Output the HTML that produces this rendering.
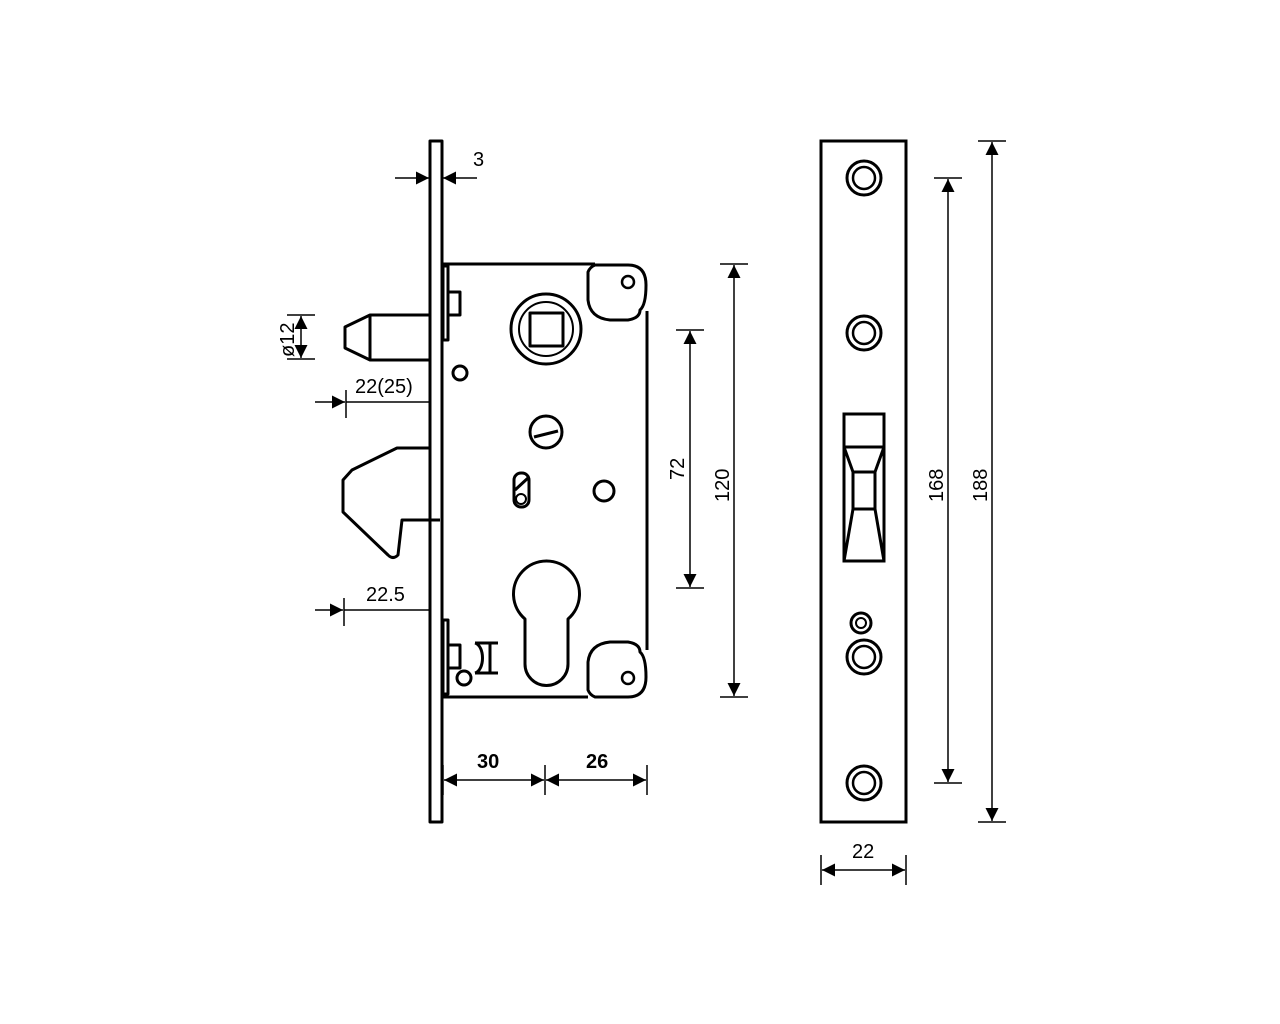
<!DOCTYPE html>
<html><head><style>body{margin:0;background:#fff}svg{display:block}</style></head><body>
<svg width="1280" height="1024" viewBox="0 0 1280 1024" xmlns="http://www.w3.org/2000/svg" font-family="Liberation Sans, sans-serif">
<defs>
<marker id="a" viewBox="0 0 10 10" refX="10" refY="5" markerWidth="22" markerHeight="13" markerUnits="userSpaceOnUse" orient="auto-start-reverse"><path d="M0,0L10,5L0,10z" fill="#000"/></marker>
</defs>
<g fill="none" stroke="#000" stroke-width="3" stroke-linejoin="round">
<rect x="430" y="141" width="12" height="681"/>
<path d="M443,264H595 M588,697H443 M647,311V650"/>
<rect x="443" y="266" width="5" height="74"/>
<rect x="448" y="292" width="12" height="23"/>
<rect x="443" y="620" width="5" height="74"/>
<rect x="448" y="645" width="12" height="23"/>
<path d="M475,643h23 M475,673h23 M490,643v30 M475,643c10,3 10,27 0,30"/>
<circle cx="464" cy="678" r="7"/>
<path d="M595,265H628Q646,265 646,285Q646,305 640,310Q640,318 628,320H610Q590,318 588,300V272Q590,267 595,265Z"/>
<circle cx="628" cy="282" r="6" stroke-width="2.5"/>
<path d="M595,697H628Q646,697 646,677Q646,657 640,652Q640,644 628,642H610Q590,644 588,662V690Q590,695 595,697Z"/>
<circle cx="628" cy="678" r="6" stroke-width="2.5"/>
<circle cx="546" cy="329" r="35"/>
<circle cx="546" cy="329" r="27" stroke-width="2"/>
<rect x="530" y="313" width="33" height="33"/>
<circle cx="460" cy="373" r="7"/>
<circle cx="546" cy="432" r="16"/>
<path d="M534,437L558,431"/>
<rect x="514" y="473" width="15" height="34" rx="7"/>
<path d="M515,490L528,478"/>
<circle cx="521" cy="499" r="5" stroke-width="2"/>
<circle cx="604" cy="491" r="10"/>
<path d="M525,619A33,33 0 1,1 568,619V664A21,21 0 0,1 525,664Z"/>
<path d="M430,315H370L345,327V348L370,360H430 M370,315V360"/>
<path d="M430,448H397L352,470L343,480V512L388,555Q393,560 398,555L402,520H440"/>
</g>
<g stroke="#000" stroke-width="1.5" fill="none">
<path d="M395,178H429" marker-end="url(#a)"/>
<path d="M477,178H443" marker-end="url(#a)"/>
<path d="M287,315H315 M287,359H315"/>
<path d="M301,337V316" marker-end="url(#a)"/>
<path d="M301,337V358" marker-end="url(#a)"/>
<path d="M315,402H345" marker-end="url(#a)"/><path d="M346,390V418 M346,402H430"/>
<path d="M315,610H343" marker-end="url(#a)"/><path d="M344,598V626 M344,610H430"/>
<path d="M676,330H704 M676,588H704"/>
<path d="M690,459V331" marker-end="url(#a)"/><path d="M690,459V587" marker-end="url(#a)"/>
<path d="M720,264H748 M720,697H748"/>
<path d="M734,480V265" marker-end="url(#a)"/><path d="M734,480V696" marker-end="url(#a)"/>
<path d="M934,178H962 M934,783H962"/>
<path d="M948,480V179" marker-end="url(#a)"/><path d="M948,480V782" marker-end="url(#a)"/>
<path d="M978,141H1006 M978,822H1006"/>
<path d="M992,480V142" marker-end="url(#a)"/><path d="M992,480V821" marker-end="url(#a)"/>
<path d="M443,765V795 M545,765V795 M647,765V795"/>
<path d="M494,780H444" marker-end="url(#a)"/><path d="M494,780H544" marker-end="url(#a)"/>
<path d="M596,780H546" marker-end="url(#a)"/><path d="M596,780H646" marker-end="url(#a)"/>
<path d="M821,855V885 M906,855V885"/>
<path d="M863,870H822" marker-end="url(#a)"/><path d="M863,870H905" marker-end="url(#a)"/>
</g>
<g fill="none" stroke="#000" stroke-width="3">
<rect x="821" y="141" width="85" height="681"/>
<circle cx="864" cy="178" r="17"/><circle cx="864" cy="178" r="11" stroke-width="2.5"/>
<circle cx="864" cy="333" r="17"/><circle cx="864" cy="333" r="11" stroke-width="2.5"/>
<circle cx="864" cy="657" r="17"/><circle cx="864" cy="657" r="11" stroke-width="2.5"/>
<circle cx="861" cy="623" r="10"/><circle cx="861" cy="623" r="5" stroke-width="2"/>
<circle cx="864" cy="783" r="17"/><circle cx="864" cy="783" r="11" stroke-width="2.5"/>
<rect x="844" y="414" width="40" height="147"/>
<path d="M844,447H884 M853,472H875 M853,509H875 M844,447L853,472V509L844,561 M884,447L875,472V509L884,561"/>
</g>
<g font-size="20" fill="#000">
<text x="473" y="166">3</text>
<text x="355" y="393">22(25)</text>
<text x="366" y="601">22.5</text>
<text transform="translate(294,357) rotate(-90)">ø12</text>
<text transform="translate(684,480) rotate(-90)">72</text>
<text transform="translate(729,502) rotate(-90)">120</text>
<text transform="translate(943,502) rotate(-90)">168</text>
<text transform="translate(987,502) rotate(-90)">188</text>
<text x="852" y="858">22</text>
<text x="477" y="768" font-weight="bold">30</text>
<text x="586" y="768" font-weight="bold">26</text>
</g>
</svg>
</body></html>
